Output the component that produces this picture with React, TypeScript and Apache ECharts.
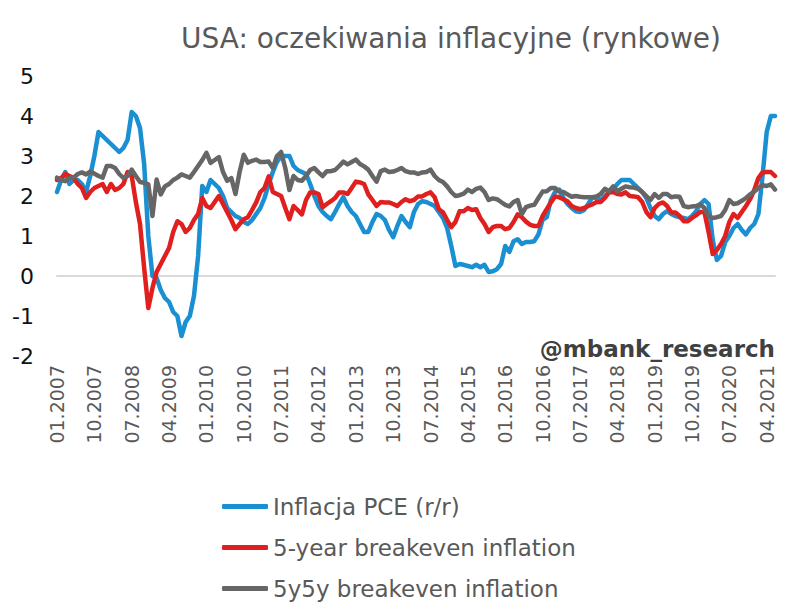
import React, { useEffect, useRef } from "react";
import * as echarts from "echarts";

// Monthly categories 01.2007 .. 06.2021
const startYear = 2007;
const monthCount = 174;
const categories: string[] = [];
for (let i = 0; i < monthCount; i++) {
  const y = startYear + Math.floor(i / 12);
  const m = (i % 12) + 1;
  categories.push((m < 10 ? "0" + m : "" + m) + "." + y);
}

const pceInflation = [
  2.1, 2.4, 2.6, 2.3, 2.4, 2.4, 2.3, 2.1, 2.5, 3.0, 3.6, 3.5,
  3.4, 3.3, 3.2, 3.1, 3.2, 3.4, 4.1, 4.0, 3.7, 2.8, 1.0, 0.0,
  -0.05, -0.35, -0.55, -0.65, -0.9, -1.0, -1.5, -1.15, -1.0, -0.5, 0.5, 2.25,
  2.1, 2.4, 2.3, 2.2, 2.0, 1.7, 1.6, 1.5, 1.45, 1.35, 1.3, 1.4,
  1.55, 1.7, 1.95, 2.3, 2.6, 2.85, 3.0, 3.0, 3.0, 2.75, 2.65, 2.6,
  2.55, 2.3, 2.0, 1.75, 1.6, 1.5, 1.42, 1.6, 1.8, 1.97, 1.75, 1.6,
  1.5, 1.3, 1.1, 1.1, 1.35, 1.55, 1.5, 1.4, 1.15, 0.97, 1.25, 1.5,
  1.35, 1.22, 1.6, 1.8, 1.87, 1.85, 1.8, 1.75, 1.6, 1.45, 1.2, 0.75,
  0.25, 0.3, 0.28, 0.25, 0.22, 0.28, 0.22, 0.28, 0.1, 0.12, 0.17, 0.3,
  0.75, 0.6, 0.87, 0.92, 0.8, 0.85, 0.85, 0.87, 1.04, 1.4, 1.47, 1.9,
  2.1, 2.16, 1.95, 1.8, 1.7, 1.62, 1.6, 1.65, 1.8, 1.97, 1.95, 1.9,
  2.0, 2.1, 2.16, 2.3, 2.4, 2.4, 2.4, 2.3, 2.2, 2.1, 1.95, 1.7,
  1.5, 1.42, 1.55, 1.62, 1.55, 1.5, 1.47, 1.45, 1.42, 1.5, 1.62, 1.8,
  1.9, 1.8, 0.9, 0.4, 0.5, 0.85, 1.0, 1.2, 1.3, 1.15, 1.04, 1.2,
  1.3, 1.55, 2.5, 3.6, 4.0, 4.0,
];

const breakeven5y = [
  2.4, 2.45, 2.55, 2.5, 2.45, 2.3, 2.2, 1.95, 2.1, 2.2, 2.25, 2.3,
  2.1, 2.3, 2.15, 2.2, 2.3, 2.6, 2.5, 1.85, 1.3, 0.2, -0.8, -0.3,
  0.1, 0.3, 0.5, 0.7, 1.1, 1.37, 1.3, 1.1, 1.2, 1.4, 1.55, 1.95,
  1.75, 1.7, 1.85, 2.0, 1.8, 1.6, 1.4, 1.17, 1.3, 1.42, 1.47, 1.65,
  1.84, 2.1, 2.2, 2.49, 2.1, 2.05, 2.0, 1.7, 1.42, 1.75, 1.65, 1.54,
  1.9, 2.09, 2.09, 2.05, 1.72, 1.8, 1.87, 1.95, 2.09, 2.09, 2.05, 2.2,
  2.36, 2.34, 2.3, 2.04, 1.9, 1.75, 1.85, 1.84, 1.84, 1.8, 1.75, 1.85,
  1.92, 1.87, 1.9, 1.99, 1.99, 2.05, 2.09, 1.97, 1.67, 1.59, 1.4, 1.22,
  1.35, 1.62, 1.62, 1.7, 1.65, 1.67, 1.45, 1.3, 1.1, 1.22, 1.25, 1.25,
  1.17, 1.2, 1.35, 1.54, 1.47, 1.36, 1.28, 1.25, 1.25, 1.5, 1.67, 1.84,
  1.99, 1.97, 1.92, 1.87, 1.75, 1.7, 1.67, 1.7, 1.75, 1.79, 1.85, 1.85,
  1.95, 2.09, 2.1, 2.05, 2.04, 2.09, 2.0, 1.99, 1.97, 1.85, 1.6, 1.47,
  1.7, 1.8, 1.84, 1.75, 1.59, 1.59, 1.5, 1.37, 1.37, 1.45, 1.52, 1.6,
  1.6, 1.1, 0.55, 0.65, 0.8, 1.0, 1.35, 1.55, 1.45, 1.6, 1.75, 1.92,
  2.15, 2.45, 2.59, 2.6, 2.6, 2.5,
];

const breakeven5y5y = [
  2.46, 2.4, 2.37, 2.45, 2.46, 2.55, 2.59, 2.54, 2.61, 2.56, 2.5, 2.46,
  2.75, 2.75, 2.7, 2.55, 2.45, 2.5, 2.66, 2.5, 2.35, 2.33, 2.29, 1.5,
  2.41, 2.04, 2.24, 2.3, 2.4, 2.46, 2.54, 2.5, 2.46, 2.6, 2.75, 2.9,
  3.08, 2.83, 2.9, 2.97, 2.6, 2.38, 2.45, 2.05, 2.6, 3.03, 2.83, 2.88,
  2.91, 2.85, 2.85, 2.86, 2.7, 3.0, 3.1, 2.7, 2.15, 2.5, 2.4, 2.38,
  2.5, 2.65, 2.7, 2.59, 2.5, 2.62, 2.62, 2.65, 2.75, 2.86, 2.79, 2.85,
  2.91, 2.8, 2.74, 2.66, 2.5, 2.36, 2.62, 2.66, 2.6, 2.61, 2.65, 2.7,
  2.62, 2.59, 2.59, 2.55, 2.59, 2.6, 2.66, 2.5, 2.4, 2.35, 2.24, 2.1,
  2.0, 2.02, 2.06, 2.16, 2.1, 2.18, 2.21, 2.1, 1.9, 1.94, 1.92, 1.85,
  1.78, 1.74, 1.85, 1.9, 1.55, 1.72, 1.76, 1.78, 1.95, 2.11, 2.12, 2.2,
  2.2, 2.11, 2.1, 2.04, 1.98, 2.0, 1.98, 1.97, 1.97, 1.97, 1.99, 2.05,
  2.18, 2.12, 2.24, 2.12, 2.18, 2.24, 2.22, 2.21, 2.18, 2.1, 2.0, 1.9,
  2.05, 1.95, 2.05, 2.05, 1.97, 1.99, 1.98, 1.75, 1.72, 1.74, 1.75, 1.79,
  1.7, 1.5, 1.45, 1.47, 1.5, 1.65, 1.9, 1.8, 1.82, 1.88, 1.95, 2.04,
  2.11, 2.2, 2.27, 2.25, 2.29, 2.16,
];

const seriesNames = [
  "Inflacja PCE (r/r)",
  "5-year breakeven inflation",
  "5y5y breakeven inflation",
];
const seriesColors = ["#1a8fd1", "#e0201e", "#666666"];

const FONT = "'DejaVu Sans', Verdana, sans-serif";

export default function App() {
  const ref = useRef<HTMLDivElement>(null);

  useEffect(() => {
    if (!ref.current) return;
    const chart = echarts.init(ref.current, undefined, { renderer: "svg" });
    const dataSets = [pceInflation, breakeven5y, breakeven5y5y];
    chart.setOption({
      animation: false,
      backgroundColor: "#ffffff",
      textStyle: { fontFamily: FONT },
      grid: { left: 57, right: 25, top: 76, bottom: 254, containLabel: false },
      xAxis: [
        {
          type: "category",
          data: categories,
          boundaryGap: false,
          axisLine: { show: false, onZero: false },
          axisTick: { show: false },
          splitLine: { show: false },
          axisLabel: {
            interval: 8,
            rotate: 90,
            margin: 9,
            fontSize: 19,
            color: "#595959",
            fontFamily: FONT,
          },
        },
        {
          type: "category",
          data: categories,
          boundaryGap: false,
          axisLine: { show: true, onZero: true, lineStyle: { color: "#d9d9d9", width: 2 } },
          axisTick: { show: false },
          axisLabel: { show: false },
          splitLine: { show: false },
        },
      ],
      yAxis: {
        type: "value",
        min: -2,
        max: 5,
        interval: 1,
        axisLine: { show: false },
        axisTick: { show: false },
        splitLine: { show: false },
        axisLabel: { fontSize: 22, color: "#111111", margin: 23, fontFamily: FONT },
      },
      legend: {
        orient: "vertical",
        left: 222,
        top: 495,
        padding: 0,
        icon: "roundRect",
        itemWidth: 46,
        itemHeight: 5,
        itemGap: 18,
        textStyle: { fontSize: 23, color: "#595959", fontFamily: FONT },
        data: seriesNames,
      },
      graphic: [
        {
          type: "text",
          x: 451,
          y: 38,
          style: {
            text: "USA: oczekiwania inflacyjne (rynkowe)",
            font: "28px " + FONT,
            fill: "#595959",
            textAlign: "center",
            textVerticalAlign: "middle",
          },
        },
        {
          type: "text",
          x: 775,
          y: 349,
          style: {
            text: "@mbank_research",
            font: "bold 23px " + FONT,
            fill: "#404040",
            textAlign: "right",
            textVerticalAlign: "middle",
          },
        },
      ],
      series: dataSets.map((d, k) => ({
        name: seriesNames[k],
        type: "line",
        data: d,
        xAxisIndex: 0,
        symbol: "none",
        smooth: false,
        color: seriesColors[k],
        lineStyle: { width: 4.5, color: seriesColors[k], join: "round", cap: "round" },
      })),
    });
    return () => chart.dispose();
  }, []);

  return (
    <div
      ref={ref}
      style={{ position: "absolute", left: 0, top: 0, width: 800, height: 610 }}
    />
  );
}
